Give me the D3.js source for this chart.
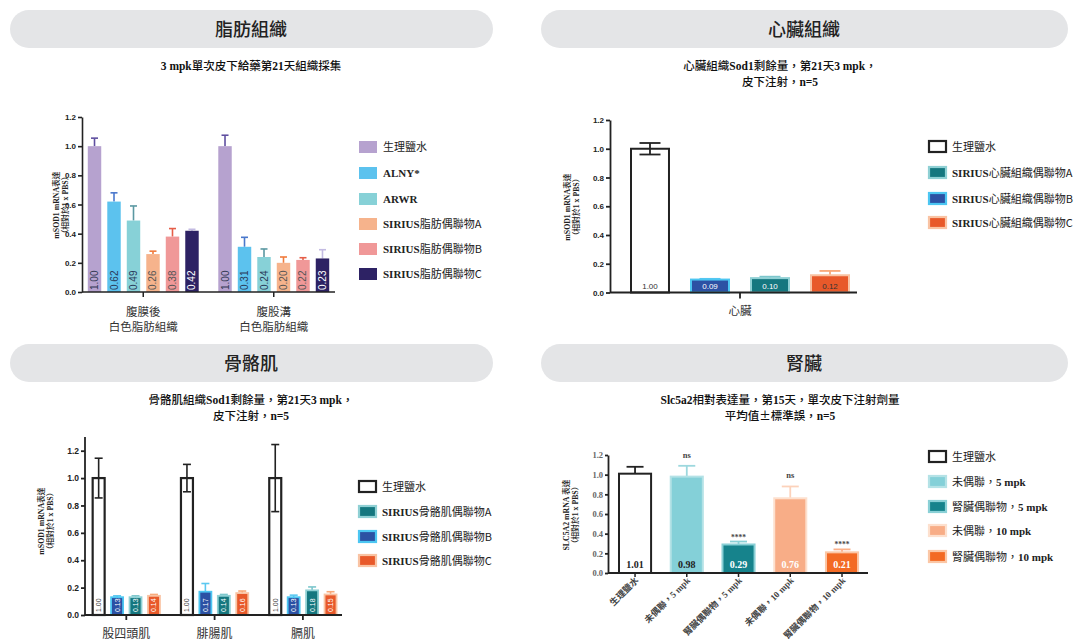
<!DOCTYPE html>
<html><head><meta charset="utf-8">
<script src="https://cdn.jsdelivr.net/npm/d3@7"></script>
<style>body{margin:0;background:#fff} svg{display:block}</style>
</head><body><svg id="c" width="1078" height="643"></svg>
<script>
// ---------------- data ----------------
const panelTitles = ["脂肪組織","心臟組織","骨骼肌","腎臟"];
const fatSubtitle = ["3 mpk單次皮下給藥第21天組織採集"];
const heartSubtitle = ["心臟組織Sod1剩餘量，第21天3 mpk，","皮下注射，n=5"];
const muscleSubtitle = ["骨骼肌組織Sod1剩餘量，第21天3 mpk，","皮下注射，n=5"];
const kidneySubtitle = ["Slc5a2相對表達量，第15天，單次皮下注射劑量","平均值±標準誤，n=5"];
const yTicks = [0,0.2,0.4,0.6,0.8,1.0,1.2];
const yLabelSod1 = ["mSOD1 mRNA表達","（相對於1 x PBS）"];
const yLabelSlc = ["SLC5A2 mRNA 表達","（相對於1 x PBS）"];

const fatGroups = [["腹膜後","白色脂肪組織"],["腹股溝","白色脂肪組織"]];
const fatSeries = ["生理鹽水","ALNY*","ARWR","SIRIUS脂肪偶聯物A","SIRIUS脂肪偶聯物B","SIRIUS脂肪偶聯物C"];
const fatValues = [[1.00,0.62,0.49,0.26,0.38,0.42],[1.00,0.31,0.24,0.20,0.22,0.23]];
const fatErrors = [[0.055,0.06,0.10,0.02,0.055,0.01],[0.075,0.065,0.055,0.04,0.015,0.06]];

const heartGroup = "心臟";
const heartSeries = ["生理鹽水","SIRIUS心臟組織偶聯物A","SIRIUS心臟組織偶聯物B","SIRIUS心臟組織偶聯物C"];
const heartBarSeries = ["生理鹽水","SIRIUS心臟組織偶聯物B","SIRIUS心臟組織偶聯物A","SIRIUS心臟組織偶聯物C"];
const heartValues = [1.00,0.09,0.10,0.12];
const heartErrors = [0.04,0.005,0.01,0.03];

const muscleGroups = ["股四頭肌","腓腸肌","膈肌"];
const muscleSeries = ["生理鹽水","SIRIUS骨骼肌偶聯物A","SIRIUS骨骼肌偶聯物B","SIRIUS骨骼肌偶聯物C"];
const muscleBarSeries = ["生理鹽水","SIRIUS骨骼肌偶聯物B","SIRIUS骨骼肌偶聯物A","SIRIUS骨骼肌偶聯物C"];
const muscleValues = [[1.00,0.13,0.13,0.14],[1.00,0.17,0.14,0.16],[1.00,0.13,0.18,0.15]];
const muscleErrors = [[0.145,0.01,0.01,0.01],[0.10,0.06,0.01,0.015],[0.245,0.015,0.025,0.02]];

const kidneyCats = ["生理鹽水","未偶聯，5 mpk","腎臟偶聯物，5 mpk","未偶聯，10 mpk","腎臟偶聯物，10 mpk"];
const kidneyValues = [1.01,0.98,0.29,0.76,0.21];
const kidneyErrors = [0.07,0.11,0.03,0.12,0.03];
const kidneySig = ["","ns","****","ns","****"];

// ---------------- styles ----------------
const CJK = "'Noto Sans CJK TC','Noto Sans CJK SC',sans-serif";
const SERIF = "'Liberation Serif','Times New Roman',serif";
const SANS = "'Liberation Sans',Arial,sans-serif";

const fatStyle = [
  {fill:"#b6a2cf", err:"#5f4fa0", lab:"#333a55"},
  {fill:"#5cc2ee", err:"#4a78cc", lab:"#2a3a5a"},
  {fill:"#87d1d7", err:"#5b98a2", lab:"#2a3a5a"},
  {fill:"#f6b38c", err:"#f07a3c", lab:"#555"},
  {fill:"#f09898", err:"#e55e48", lab:"#555"},
  {fill:"#2d2264", err:"#c3bbe2", lab:"#fff"}
];
const tripleStyle = {
  S:{fill:"#fff", stroke:"#222", err:"#222", lab:"#333"},
  A:{fill:"#15777f", stroke:"#8fd0d4", err:"#7cc6cc", lab:"#fff"},
  B:{fill:"#2c51a4", stroke:"#4cc6f2", err:"#5bc8f0", lab:"#fff"},
  C:{fill:"#e8592a", stroke:"#f9c3a3", err:"#f8a878", lab:"#fff"}
};
const kidneyStyle = [
  {fill:"#fff", stroke:"#222", err:"#222", lab:"#222"},
  {fill:"#84d0d8", stroke:"#b4e2e6", err:"#9dd8de", lab:"#222"},
  {fill:"#16838c", stroke:"#8ad0d6", err:"#8ad0d6", lab:"#fff"},
  {fill:"#f8ad87", stroke:"#fde0ce", err:"#fcd2bb", lab:"#fff"},
  {fill:"#f36a24", stroke:"#fbc7a6", err:"#fbb08a", lab:"#fff"}
];
function letterOf(name){ if(name==="生理鹽水") return "S"; return name.slice(-1); }

const svg = d3.select("#c");

function mixed(t, str, cjkWeight){
  const parts = str.match(/[\u2000-\u206f\u3000-\u9fff\uff00-\uffef±]+|[^\u2000-\u206f\u3000-\u9fff\uff00-\uffef±]+/g) || [];
  parts.forEach((p,i)=>{
    const isCJK = /[\u2000-\u206f\u3000-\u9fff\uff00-\uffef±]/.test(p);
    const trailingLetter = !isCJK && i===parts.length-1 && /^[A-C]$/.test(p);
    const ts = t.append("tspan").text(p);
    if(isCJK || trailingLetter){ ts.attr("font-family",CJK).attr("font-weight",cjkWeight||400); }
    else { ts.attr("font-family",SERIF).attr("font-weight",700); }
  });
  return t;
}

// ---------------- headers ----------------
const pills = [
  {x:10,y:10,w:483,h:38,cx:251},
  {x:541,y:10,w:527,h:38,cx:804},
  {x:10,y:344,w:483,h:38,cx:251},
  {x:541,y:344,w:527,h:38,cx:804}
];
pills.forEach((p,i)=>{
  svg.append("rect").attr("x",p.x).attr("y",p.y).attr("width",p.w).attr("height",p.h)
    .attr("rx",19).attr("fill","#e4e5e7");
  svg.append("text").attr("x",p.cx).attr("y",p.y+p.h/2+6.5).attr("text-anchor","middle")
    .attr("font-family",CJK).attr("font-size",18).attr("font-weight",500).attr("fill","#222")
    .text(panelTitles[i]);
});

function subtitle(lines, cx, y0){
  lines.forEach((l,i)=>{
    const t = svg.append("text").attr("x",cx).attr("y",y0+i*16).attr("text-anchor","middle")
      .attr("font-size",11.5).attr("fill","#111");
    mixed(t,l,500);
  });
}
subtitle(fatSubtitle,251,70);
subtitle(heartSubtitle,780,70);
subtitle(muscleSubtitle,251,404);
subtitle(kidneySubtitle,780,404);

// ---------------- axis helpers ----------------
function yAxis(y, x, opts){
  const g = svg.append("g").attr("transform",`translate(${x},0)`);
  const ax = d3.axisLeft(y).tickValues(yTicks).tickFormat(d3.format(".1f")).tickSize(opts.tick).tickSizeOuter(0);
  g.call(ax);
  g.select(".domain").attr("stroke","#222").attr("stroke-width",opts.sw);
  if(opts.top!==undefined) g.select(".domain").attr("d",`M0,${y(0)}V${opts.top}`);
  g.selectAll(".tick line").attr("stroke","#222").attr("stroke-width",opts.sw);
  g.selectAll(".tick text").attr("font-family",opts.font).attr("font-weight",700)
    .attr("font-size",opts.fs).attr("fill",opts.color).attr("x",-opts.tick-2);
  return g;
}
function yLabel(lines, x, cy, fs){
  lines.forEach((l,i)=>{
    const t = svg.append("text").attr("transform",`translate(${x+i*9},${cy}) rotate(-90)`)
      .attr("text-anchor","middle").attr("font-size",fs).attr("fill","#222");
    mixed(t,l,500);
  });
}
function xLine(x0,x1,y,sw){
  svg.append("line").attr("x1",x0).attr("x2",x1).attr("y1",y).attr("y2",y)
    .attr("stroke","#222").attr("stroke-width",sw);
}
function xTick(x,y,len,sw){
  svg.append("line").attr("x1",x).attr("x2",x).attr("y1",y).attr("y2",y+len)
    .attr("stroke","#222").attr("stroke-width",sw);
}
function errBar(x,yTop,yBot,cap,color,sw){
  const g = svg.append("g").attr("stroke",color).attr("stroke-width",sw).attr("fill","none");
  g.append("line").attr("x1",x).attr("x2",x).attr("y1",yTop).attr("y2",yBot);
  g.append("line").attr("x1",x-cap/2).attr("x2",x+cap/2).attr("y1",yTop).attr("y2",yTop);
  return g;
}
function legend(names, x, ys, swatchFn, fs){
  names.forEach((n,i)=>{
    swatchFn(svg, x, ys[i]-6, n, i);
    const t = svg.append("text").attr("x",x+24).attr("y",ys[i]+4).attr("font-size",fs).attr("fill","#222");
    if(n==="生理鹽水") t.attr("font-family",CJK).text(n); else mixed(t,n,400);
  });
}

// ---------------- Panel 1: fat ----------------
(function(){
  const y = d3.scaleLinear().domain([0,1.2]).range([292,117]);
  const xg = d3.scaleBand().domain(d3.range(fatGroups.length)).range([78,339]).paddingInner(0.15).paddingOuter(0.075);
  const xs = d3.scaleBand().domain(d3.range(fatSeries.length)).range([0,xg.bandwidth()]).paddingInner(0.31).paddingOuter(0);
  fatValues.forEach((vals,gi)=>{
    vals.forEach((v,si)=>{
      const st = fatStyle[si];
      const x = xg(gi)+xs(si), w = xs.bandwidth();
      errBar(x+w/2, y(v+fatErrors[gi][si]), y(v), 7, st.err, 1.6);
      svg.append("rect").attr("x",x).attr("y",y(v)).attr("width",w).attr("height",y(0)-y(v)).attr("fill",st.fill);
      svg.append("text").attr("transform",`translate(${x+w/2+3.5},${y(0)-2}) rotate(-90)`)
        .attr("font-family",SANS).attr("font-size",10).attr("fill",st.lab).text(v.toFixed(2));
    });
    const cx = xg(gi)+xg.bandwidth()/2;
    xTick(cx, y(0), 5, 1.5);
    fatGroups[gi].forEach((l,li)=>{
      svg.append("text").attr("x",cx).attr("y",316+li*15).attr("text-anchor","middle")
        .attr("font-family",CJK).attr("font-size",11.5).attr("fill","#333").text(l);
    });
  });
  xLine(82,335,y(0),1.6);
  yAxis(y,82,{tick:4,sw:1.6,font:SANS,fs:8,color:"#222"});
  yLabel(yLabelSod1,59,205,7.8);
  legend(fatSeries,359,[147,173,199,224,249,274],(s,x,yy,n,i)=>{
    s.append("rect").attr("x",x).attr("y",yy).attr("width",18).attr("height",12).attr("fill",fatStyle[i].fill);
  },11);
})();

function tripleSwatch(s,x,yy,n){
  const st = tripleStyle[letterOf(n)];
  s.append("rect").attr("x",x+1).attr("y",yy).attr("width",17).attr("height",11)
    .attr("fill",st.fill).attr("stroke",st.stroke).attr("stroke-width",2.2);
}

// ---------------- Panel 2: heart ----------------
(function(){
  const y = d3.scaleLinear().domain([0,1.2]).range([292.5,120]);
  const xs = d3.scaleBand().domain(d3.range(heartValues.length)).range([631,849]).paddingInner(0.367).paddingOuter(0);
  heartValues.forEach((v,i)=>{
    const st = tripleStyle[letterOf(heartBarSeries[i])];
    const x = xs(i), w = xs.bandwidth(), cx = x+w/2;
    if(i===0){
      errBar(cx, y(v+heartErrors[i]), y(v-heartErrors[i]), 21, st.err, 1.8);
      svg.append("line").attr("x1",cx-10.5).attr("x2",cx+10.5).attr("y1",y(v-heartErrors[i])).attr("y2",y(v-heartErrors[i]))
        .attr("stroke",st.err).attr("stroke-width",1.8);
    } else errBar(cx, y(v+heartErrors[i]), y(v), 21, st.err, 1.8);
    svg.append("rect").attr("x",x).attr("y",y(v)).attr("width",w).attr("height",y(0)-y(v))
      .attr("fill",st.fill).attr("stroke",st.stroke).attr("stroke-width",2).attr("fill-opacity",i===0?0:1);
    svg.append("text").attr("x",cx).attr("y",y(0)-3.5).attr("text-anchor","middle")
      .attr("font-family",SANS).attr("font-size",8).attr("fill",i===3?"#333":st.lab).text(v.toFixed(2));
  });
  xLine(610,857,y(0),1.8);
  xTick(740,y(0),6,1.8);
  svg.append("text").attr("x",740).attr("y",315).attr("text-anchor","middle")
    .attr("font-family",CJK).attr("font-size",11.5).attr("fill","#333").text(heartGroup);
  yAxis(y,610,{tick:4,sw:1.8,font:SANS,fs:8,color:"#222"});
  yLabel(yLabelSod1,570,207,7.8);
  legend(heartSeries,928,[147,173,199,223],tripleSwatch,11);
})();

// ---------------- Panel 3: muscle ----------------
(function(){
  const y = d3.scaleLinear().domain([0,1.2]).range([615,450.7]);
  const xg = d3.scaleBand().domain(d3.range(muscleGroups.length)).range([85.6,343.6]).paddingInner(0.238).paddingOuter(0.08);
  const xs = d3.scaleBand().domain(d3.range(4)).range([0,xg.bandwidth()]).paddingInner(0.35).paddingOuter(0);
  muscleValues.forEach((vals,gi)=>{
    vals.forEach((v,si)=>{
      const st = tripleStyle[letterOf(muscleBarSeries[si])];
      const x = xg(gi)+xs(si), w = xs.bandwidth(), cx = x+w/2, e = muscleErrors[gi][si];
      if(si===0){
        errBar(cx, y(v+e), y(v-e), 8, st.err, 1.6);
        svg.append("line").attr("x1",cx-4).attr("x2",cx+4).attr("y1",y(v-e)).attr("y2",y(v-e))
          .attr("stroke",st.err).attr("stroke-width",1.6);
      } else errBar(cx, y(v+e), y(v), 8, st.err, 1.6);
      svg.append("rect").attr("x",x).attr("y",y(v)).attr("width",w).attr("height",y(0)-y(v))
        .attr("fill",st.fill).attr("stroke",st.stroke).attr("stroke-width",si===0?2.2:1.8).attr("fill-opacity",si===0?0:1);
      svg.append("text").attr("transform",`translate(${cx+2.5},${y(0)-3}) rotate(-90)`)
        .attr("font-family",SANS).attr("font-size",7).attr("fill",si===0?"#444":"#fff").text(v.toFixed(2));
    });
    const cx = xg(gi)+xg.bandwidth()/2;
    xTick(cx,y(0),5,1.8);
    svg.append("text").attr("x",cx).attr("y",638).attr("text-anchor","middle")
      .attr("font-family",CJK).attr("font-size",12).attr("fill","#333").text(muscleGroups[gi]);
  });
  xLine(85,342,y(0),1.8);
  yAxis(y,85,{tick:4,sw:1.8,font:SANS,fs:8.5,color:"#222",top:437});
  yLabel(yLabelSod1,44,521,7.8);
  legend(muscleSeries,358,[487,512,537,561],tripleSwatch,11);
})();

// ---------------- Panel 4: kidney ----------------
(function(){
  const y = d3.scaleLinear().domain([0,1.2]).range([573,455]);
  const xs = d3.scaleBand().domain(kidneyCats).range([608.65,868.4]).paddingInner(0.38).paddingOuter(0.2);
  kidneyCats.forEach((c,i)=>{
    const st = kidneyStyle[i], v = kidneyValues[i];
    const x = xs(c), w = xs.bandwidth(), cx = x+w/2;
    errBar(cx, y(v+kidneyErrors[i]), y(v), 17, st.err, 1.8);
    svg.append("rect").attr("x",x).attr("y",y(v)).attr("width",w).attr("height",y(0)-y(v))
      .attr("fill",st.fill).attr("stroke",st.stroke).attr("stroke-width",2).attr("fill-opacity",i===0?0:1);
    svg.append("text").attr("x",cx).attr("y",568).attr("text-anchor","middle")
      .attr("font-family",SERIF).attr("font-weight",700).attr("font-size",10).attr("fill",st.lab).text(v.toFixed(2));
    if(kidneySig[i]){
      svg.append("text").attr("x",cx).attr("y",y(v+kidneyErrors[i])-(kidneySig[i]==="ns"?8:2)).attr("text-anchor","middle")
        .attr("font-family",SERIF).attr("font-weight",700).attr("font-size",kidneySig[i]==="ns"?8.5:7.5).attr("fill","#444").text(kidneySig[i]);
    }
    xTick(cx,y(0),4,1.5);
    const t = svg.append("text").attr("transform",`translate(${cx+4},${y(0)+8}) rotate(-45)`)
      .attr("text-anchor","end").attr("font-size",9).attr("fill","#444");
    mixed(t,c,700);
  });
  xLine(608,868,y(0),1.8);
  yAxis(y,608,{tick:3,sw:1.8,font:SERIF,fs:8.5,color:"#666"});
  yLabel(yLabelSlc,569,515,7.8);
  legend(kidneyCats,928,[457,482,507,531,557],(s,x,yy,n,i)=>{
    const st = kidneyStyle[i];
    s.append("rect").attr("x",x+1).attr("y",yy).attr("width",17).attr("height",11)
      .attr("fill",st.fill).attr("stroke",st.stroke).attr("stroke-width",2.2);
  },11);
})();
</script></body></html>
